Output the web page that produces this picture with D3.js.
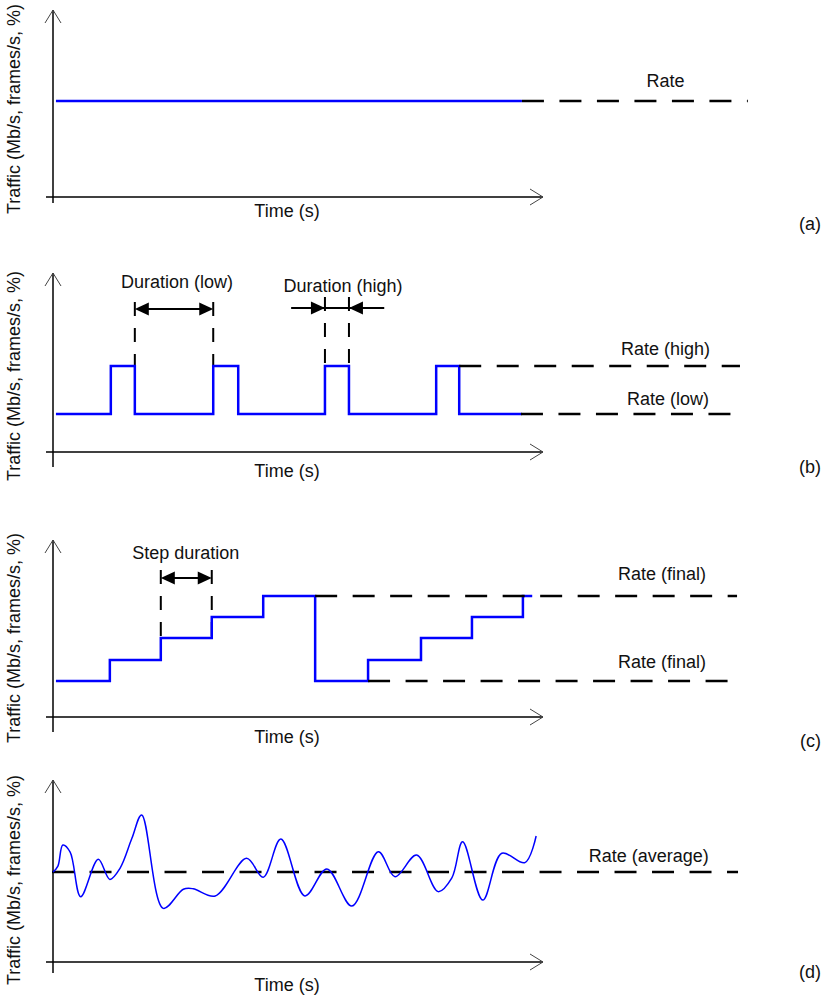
<!DOCTYPE html>
<html>
<head>
<meta charset="utf-8">
<script src="https://cdn.jsdelivr.net/npm/d3@7"></script>
<style>
  body { margin: 0; background: #fff; }
  svg { display: block; }
  text { font-family: "Liberation Sans", Arial, sans-serif; font-size: 18px; fill: #111; }
</style>
</head>
<body>
<svg id="chart" width="824" height="995"></svg>
<script>
// ---- data: time in seconds (arbitrary), traffic in % of axis height
var panelLetters = ['(a)', '(b)', '(c)', '(d)'];
var xAxisTitle = 'Time (s)';
var yAxisTitle = 'Traffic (Mb/s, frames/s, %)';

// (a) constant rate
var constantSeries = [[0.6, 53.3], [95.7, 53.3]];
var constantRate = 53.3;

// (b) on/off pulses
var pulseSeries = [[0.6, 21.1], [11.8, 47.8], [16.7, 21.1], [32.7, 47.8], [37.8, 21.1],
                   [55.5, 47.8], [60.4, 21.1], [78.2, 47.8], [82.9, 21.1], [95.7, 21.1]];
var rateHigh = 47.8;
var rateLow = 21.1;
var durationLow = [16.7, 32.7];
var durationHigh = [55.5, 60.4];

// (c) staircase
var stepSeries = [[0.6, 20], [11.6, 31.7], [22.0, 43.9], [32.4, 55.6], [42.9, 67.2],
                  [53.5, 20], [64.3, 31.7], [75.1, 43.9], [85.5, 55.6], [95.9, 67.2], [97.8, 67.2]];
var rateFinalHigh = 67.2;
var rateFinalLow = 20;
var stepDuration = [22.0, 32.4];

// (d) fluctuating traffic
var fluctSeries = [[0, 50.0], [1.0, 53.3], [2.0, 65.0], [3.5, 61.1], [5.65, 36.3], [9.24, 57.1],
                   [11.6, 45.9], [13.7, 52.2], [16.1, 68.7], [18.1, 81.7], [22.5, 29.8], [26.6, 40.4],
                   [28.6, 40.7], [33.1, 36.7], [39.5, 57.6], [42.9, 47.1], [46.5, 68.3], [51.4, 36.7],
                   [55.9, 51.7], [61.0, 31.1], [66.4, 61.3], [69.8, 47.4], [74.2, 59.4], [78.6, 39.1],
                   [81.4, 46.7], [83.6, 66.8], [87.7, 34.4], [91.6, 60.4], [96.3, 55.2], [98.6, 70.0]];
var rateAverage = 50;

// ---- layout
var svg = d3.select('#chart');
var x = d3.scaleLinear().domain([0, 100]).range([53, 543]);
var panels = [
    {axisY: 197, top: 10, below: 6, yTitle: 109, timeY: 217, letterY: 230},
    {axisY: 452, top: 273, below: 15, yTitle: 376, timeY: 477, letterY: 473},
    {axisY: 717, top: 540, below: 15, yTitle: 638, timeY: 743, letterY: 747},
    {axisY: 962, top: 780, below: 11, yTitle: 880, timeY: 991, letterY: 978}
];
var BLUE = '#0000ff';

function yScale(p) {
    return d3.scaleLinear().domain([0, 100]).range([p.axisY, p.axisY - 180]);
}

//axes with open chevron heads
function drawAxes(g, p, i) {
    var x0 = x(0);
    g.append('line').attr('x1', x0 - 7).attr('x2', x(100)).attr('y1', p.axisY).attr('y2', p.axisY)
        .attr('stroke', '#000').attr('stroke-width', 1.5);
    g.append('line').attr('x1', x0).attr('x2', x0).attr('y1', p.axisY + p.below).attr('y2', p.top)
        .attr('stroke', '#000').attr('stroke-width', 1.5);
    g.append('path').attr('d', 'M' + (x0 - 8) + ',' + (p.top + 13) + 'L' + x0 + ',' + p.top + 'L' + (x0 + 8) + ',' + (p.top + 13))
        .attr('fill', 'none').attr('stroke', '#444').attr('stroke-width', 1);
    var xe = x(100);
    g.append('path').attr('d', 'M' + (xe - 13) + ',' + (p.axisY - 8) + 'L' + xe + ',' + p.axisY + 'L' + (xe - 13) + ',' + (p.axisY + 8))
        .attr('fill', 'none').attr('stroke', '#444').attr('stroke-width', 1);
    g.append('text').attr('transform', 'translate(20,' + p.yTitle + ') rotate(-90)')
        .attr('text-anchor', 'middle').text(yAxisTitle);
    g.append('text').attr('x', 287).attr('y', p.timeY).attr('text-anchor', 'middle').text(xAxisTitle);
    g.append('text').attr('x', 821).attr('y', p.letterY).attr('text-anchor', 'end').text(panelLetters[i]);
}

function rateLine(g, y, value, t0, t1) {
    g.append('line').attr('x1', x(t0)).attr('x2', x(t1)).attr('y1', y(value)).attr('y2', y(value))
        .attr('stroke', '#000').attr('stroke-width', 2.5).attr('stroke-dasharray', '22,15.5');
}

function rateLabel(g, y, value, txt, t, lift) {
    g.append('text').attr('x', x(t)).attr('y', y(value) - lift).attr('text-anchor', 'middle').text(txt);
}

function series(g, y, data, curve, width) {
    var line = d3.line().x(function (d) { return x(d[0]); }).y(function (d) { return y(d[1]); }).curve(curve);
    g.append('path').datum(data).attr('d', line).attr('fill', 'none')
        .attr('stroke', BLUE).attr('stroke-width', width);
}

function vDash(g, y, t, v0, v1) {
    g.append('line').attr('x1', x(t)).attr('x2', x(t)).attr('y1', y(v0)).attr('y2', y(v1))
        .attr('stroke', '#000').attr('stroke-width', 2).attr('stroke-dasharray', '14,12');
}

//filled arrow head, dir = 1 points right, -1 points left
function head(g, tipX, yy, dir) {
    var pts = [[tipX, yy], [tipX - dir * 14, yy - 6.5], [tipX - dir * 14, yy + 6.5]];
    g.append('path').attr('d', 'M' + pts.join('L') + 'Z').attr('fill', '#000');
}

function hLine(g, xa, xb, yy) {
    g.append('line').attr('x1', xa).attr('x2', xb).attr('y1', yy).attr('y2', yy)
        .attr('stroke', '#000').attr('stroke-width', 2);
}

// ---- (a)
var gA = svg.append('g'), yA = yScale(panels[0]);
drawAxes(gA, panels[0], 0);
series(gA, yA, constantSeries, d3.curveLinear, 2.5);
rateLine(gA, yA, constantRate, 95.7, 141.8);
rateLabel(gA, yA, constantRate, 'Rate', 125, 14);

// ---- (b)
var gB = svg.append('g'), yB = yScale(panels[1]);
drawAxes(gB, panels[1], 1);
vDash(gB, yB, durationLow[0], 83.3, rateHigh);
vDash(gB, yB, durationLow[1], 83.3, rateHigh);
vDash(gB, yB, durationHigh[0], 86.1, rateHigh);
vDash(gB, yB, durationHigh[1], 86.1, rateHigh);
series(gB, yB, pulseSeries, d3.curveStepAfter, 2.5);
rateLine(gB, yB, rateHigh, 82.9, 140.2);
rateLine(gB, yB, rateLow, 95.5, 139.8);
rateLabel(gB, yB, rateHigh, 'Rate (high)', 125, 11);
rateLabel(gB, yB, rateLow, 'Rate (low)', 125.5, 9);
var aLowY = yB(79.4);
hLine(gB, x(durationLow[0]) + 8, x(durationLow[1]) - 8, aLowY);
head(gB, x(durationLow[0]), aLowY, -1);
head(gB, x(durationLow[1]), aLowY, 1);
gB.append('text').attr('x', x(25.3)).attr('y', yB(91.1)).attr('text-anchor', 'middle').text('Duration (low)');
var aHighY = yB(80);
hLine(gB, x(48.6), x(67.6), aHighY);
head(gB, x(durationHigh[0]), aHighY, 1);
head(gB, x(durationHigh[1]), aHighY, -1);
gB.append('text').attr('x', x(59.2)).attr('y', yB(88.9)).attr('text-anchor', 'middle').text('Duration (high)');

// ---- (c)
var gC = svg.append('g'), yC = yScale(panels[2]);
drawAxes(gC, panels[2], 2);
vDash(gC, yC, stepDuration[0], 81.7, 43.9);
vDash(gC, yC, stepDuration[1], 81.7, 43.9);
series(gC, yC, stepSeries, d3.curveStepAfter, 2.5);
rateLine(gC, yC, rateFinalHigh, 53.5, 139.6);
rateLine(gC, yC, rateFinalLow, 64.3, 139.6);
rateLabel(gC, yC, rateFinalHigh, 'Rate (final)', 124.3, 16);
rateLabel(gC, yC, rateFinalLow, 'Rate (final)', 124.3, 13);
var aStepY = yC(77.2);
hLine(gC, x(stepDuration[0]) + 8, x(stepDuration[1]) - 8, aStepY);
head(gC, x(stepDuration[0]), aStepY, -1);
head(gC, x(stepDuration[1]), aStepY, 1);
gC.append('text').attr('x', x(27.1)).attr('y', yC(87.8)).attr('text-anchor', 'middle').text('Step duration');

// ---- (d)
var gD = svg.append('g'), yD = yScale(panels[3]);
drawAxes(gD, panels[3], 3);
rateLine(gD, yD, rateAverage, -0.2, 139.8);
series(gD, yD, fluctSeries, d3.curveCatmullRom.alpha(0.5), 1.5);
rateLabel(gD, yD, rateAverage, 'Rate (average)', 121.6, 10);
</script>
</body>
</html>
